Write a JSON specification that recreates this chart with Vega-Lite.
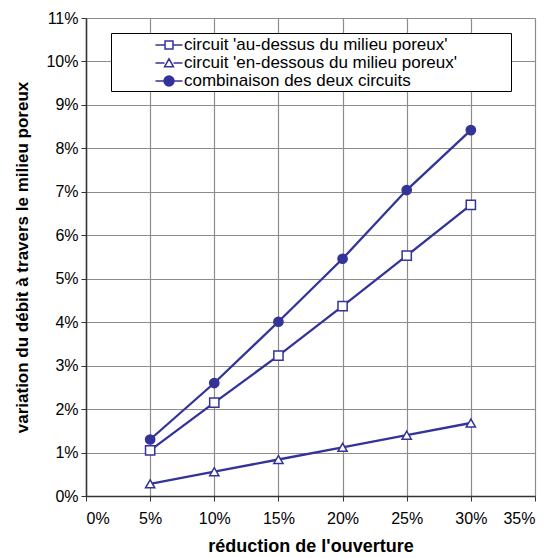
{
  "$schema": "https://vega.github.io/schema/vega-lite/v6.json",
  "autosize": "none",
  "width": 449,
  "height": 478,
  "padding": {"left": 86, "top": 18, "right": 24, "bottom": 62},
  "background": "white",
  "config": {
    "font": "Liberation Sans",
    "view": {"stroke": null},
    "axis": {
      "labelFont": "Liberation Sans",
      "labelFontSize": 16,
      "labelColor": "#000000",
      "titleFont": "Liberation Sans",
      "titleFontSize": 17,
      "titleFontWeight": "bold",
      "titleColor": "#000000",
      "gridColor": "#8c8c8c",
      "gridWidth": 1.2,
      "gridOpacity": 1,
      "domainColor": "#333333",
      "domainWidth": 1.5,
      "tickColor": "#333333",
      "tickSize": 5,
      "tickWidth": 1
    }
  },
  "data": {
    "values": [
      {"r": 0.05, "v": 0.0105, "s": "circuit 'au-dessus du milieu poreux'"},
      {"r": 0.10, "v": 0.0215, "s": "circuit 'au-dessus du milieu poreux'"},
      {"r": 0.15, "v": 0.0323, "s": "circuit 'au-dessus du milieu poreux'"},
      {"r": 0.20, "v": 0.0437, "s": "circuit 'au-dessus du milieu poreux'"},
      {"r": 0.25, "v": 0.0553, "s": "circuit 'au-dessus du milieu poreux'"},
      {"r": 0.30, "v": 0.0670, "s": "circuit 'au-dessus du milieu poreux'"},
      {"r": 0.05, "v": 0.0028, "s": "circuit 'en-dessous du milieu poreux'"},
      {"r": 0.10, "v": 0.0056, "s": "circuit 'en-dessous du milieu poreux'"},
      {"r": 0.15, "v": 0.0084, "s": "circuit 'en-dessous du milieu poreux'"},
      {"r": 0.20, "v": 0.0112, "s": "circuit 'en-dessous du milieu poreux'"},
      {"r": 0.25, "v": 0.0140, "s": "circuit 'en-dessous du milieu poreux'"},
      {"r": 0.30, "v": 0.0168, "s": "circuit 'en-dessous du milieu poreux'"},
      {"r": 0.05, "v": 0.0130, "s": "combinaison des deux circuits"},
      {"r": 0.10, "v": 0.0260, "s": "combinaison des deux circuits"},
      {"r": 0.15, "v": 0.0401, "s": "combinaison des deux circuits"},
      {"r": 0.20, "v": 0.0546, "s": "combinaison des deux circuits"},
      {"r": 0.25, "v": 0.0704, "s": "combinaison des deux circuits"},
      {"r": 0.30, "v": 0.0842, "s": "combinaison des deux circuits"}
    ]
  },
  "encoding": {
    "x": {
      "field": "r", "type": "quantitative",
      "scale": {"domain": [0, 0.35], "nice": false, "zero": false},
      "axis": {"values": [0, 0.05, 0.1, 0.15, 0.2, 0.25, 0.3, 0.35], "format": ".0%", "labelPadding": 9, "title": "réduction de l'ouverture", "titleFontSize": 18, "titlePadding": 11}
    },
    "y": {
      "field": "v", "type": "quantitative",
      "scale": {"domain": [0, 0.11], "nice": false, "zero": false},
      "axis": {"values": [0, 0.01, 0.02, 0.03, 0.04, 0.05, 0.06, 0.07, 0.08, 0.09, 0.1, 0.11], "format": ".0%", "labelPadding": 3, "title": "variation du débit à travers le milieu poreux", "titlePadding": 14}
    }
  },
  "resolve": {
    "scale": {"shape": "independent", "fill": "independent"},
    "legend": {"shape": "independent", "fill": "independent"}
  },
  "layer": [
    {
      "mark": {"type": "line", "color": "#333399", "strokeWidth": 2.3},
      "encoding": {"detail": {"field": "s"}}
    },
    {
      "mark": {"type": "point", "filled": true, "opacity": 1, "stroke": "#333399", "strokeWidth": 1.5, "size": 85},
      "encoding": {
        "shape": {
          "field": "s", "type": "nominal",
          "scale": {"domain": ["circuit 'au-dessus du milieu poreux'", "circuit 'en-dessous du milieu poreux'", "combinaison des deux circuits"], "range": ["square", "triangle-up", "circle"]},
          "legend": null
        },
        "fill": {
          "field": "s", "type": "nominal",
          "scale": {"domain": ["circuit 'au-dessus du milieu poreux'", "circuit 'en-dessous du milieu poreux'", "combinaison des deux circuits"], "range": ["white", "white", "#333399"]},
          "legend": null
        }
      }
    },
    {
      "transform": [{"filter": "datum.r > 1"}],
      "mark": {"type": "point", "filled": true, "opacity": 1, "stroke": "#333399", "strokeWidth": 1.8},
      "encoding": {
        "shape": {
          "field": "s", "type": "nominal",
          "scale": {"domain": ["circuit 'au-dessus du milieu poreux'", "circuit 'en-dessous du milieu poreux'", "combinaison des deux circuits"], "range": ["M-1.5,0H-0.44M0.44,0H1.5M-0.44,-0.44H0.44V0.44H-0.44ZM37.4,0L37.4001,0", "M-1.5,0H-0.5M0.5,0H1.5M-0.5,0.42L0,-0.46L0.5,0.42ZM37.4,0L37.4001,0", "M-1.5,0H1.5M-0.55,0A0.55,0.55 0 1,0 0.55,0A0.55,0.55 0 1,0 -0.55,0ZM37.4,0L37.4001,0"]},
          "legend": {
            "title": null,
            "orient": "none",
            "legendX": 25,
            "legendY": 15,
            "fillColor": "white",
            "strokeColor": "#000000",
            "padding": 2,
            "rowPadding": 0,
            "symbolSize": 324,
            "symbolOffset": 46,
            "symbolOpacity": 1,
            "labelOffset": 5,
            "labelFont": "Liberation Sans",
            "labelFontSize": 17,
            "labelColor": "#000000",
            "labelLimit": 500,
            "encode": {
              "symbols": {
                "stroke": {"value": "#333399"},
                "strokeWidth": {"value": 1.8}
              }
            }
          }
        },
        "fill": {
          "field": "s", "type": "nominal",
          "scale": {"domain": ["circuit 'au-dessus du milieu poreux'", "circuit 'en-dessous du milieu poreux'", "combinaison des deux circuits"], "range": ["white", "white", "#333399"]},
          "legend": null
        }
      }
    }
  ]
}
